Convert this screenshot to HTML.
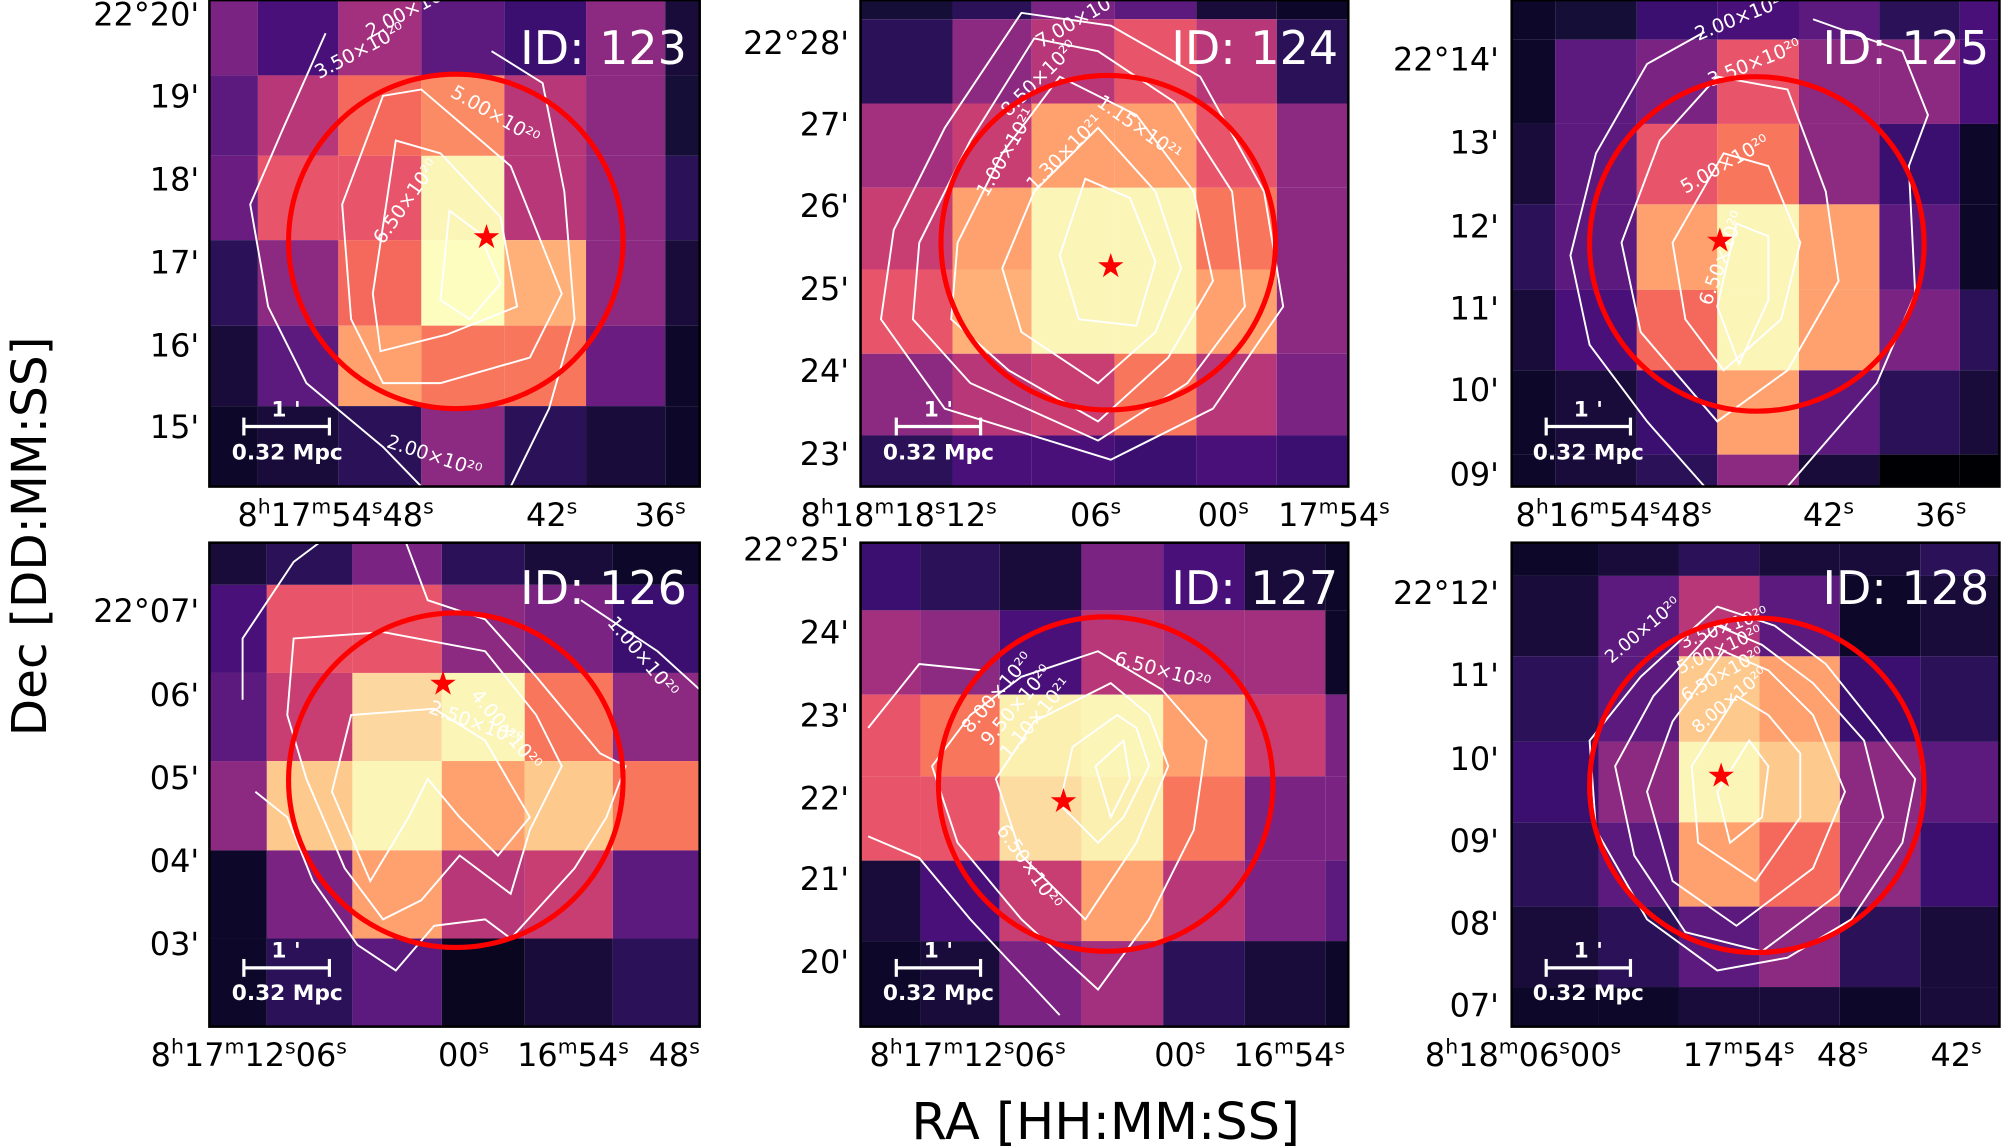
<!DOCTYPE html>
<html><head><meta charset="utf-8"><style>
html,body{margin:0;padding:0;background:#fff}
svg{display:block}
text{font-family:"DejaVu Sans","Liberation Sans",sans-serif}
</style></head><body>
<svg width="2002" height="1148" viewBox="0 0 1568 899" xmlns="http://www.w3.org/2000/svg">
<!-- P1 -->
<g>
<rect x="164" y="0" width="38" height="59" fill="#7b2382"/><rect x="202" y="0" width="63" height="59" fill="#4a1079"/><rect x="265" y="0" width="65" height="59" fill="#a3307e"/><rect x="330" y="0" width="65" height="59" fill="#5c1a7e"/><rect x="395" y="0" width="64" height="59" fill="#3b0f70"/><rect x="459" y="0" width="62" height="59" fill="#8c2981"/><rect x="521" y="0" width="27" height="59" fill="#1a0c3a"/>
<rect x="164" y="59" width="38" height="63" fill="#5c1a7e"/><rect x="202" y="59" width="63" height="63" fill="#b73779"/><rect x="265" y="59" width="65" height="63" fill="#f4695c"/><rect x="330" y="59" width="65" height="63" fill="#fa8b64"/><rect x="395" y="59" width="64" height="63" fill="#b73779"/><rect x="459" y="59" width="62" height="63" fill="#8c2981"/><rect x="521" y="59" width="27" height="63" fill="#150e37"/>
<rect x="164" y="122" width="38" height="66" fill="#6a1c81"/><rect x="202" y="122" width="63" height="66" fill="#e8556a"/><rect x="265" y="122" width="65" height="66" fill="#e8556a"/><rect x="330" y="122" width="65" height="66" fill="#fcf5b8"/><rect x="395" y="122" width="64" height="66" fill="#b73779"/><rect x="459" y="122" width="62" height="66" fill="#8c2981"/><rect x="521" y="122" width="27" height="66" fill="#2a1158"/>
<rect x="164" y="188" width="38" height="67" fill="#2a1158"/><rect x="202" y="188" width="63" height="67" fill="#8c2981"/><rect x="265" y="188" width="65" height="67" fill="#f4695c"/><rect x="330" y="188" width="65" height="67" fill="#fcfdbf"/><rect x="395" y="188" width="64" height="67" fill="#feb078"/><rect x="459" y="188" width="62" height="67" fill="#8c2981"/><rect x="521" y="188" width="27" height="67" fill="#1a0c3a"/>
<rect x="164" y="255" width="38" height="63" fill="#1a0c3a"/><rect x="202" y="255" width="63" height="63" fill="#5c1a7e"/><rect x="265" y="255" width="65" height="63" fill="#fea16e"/><rect x="330" y="255" width="65" height="63" fill="#f8765c"/><rect x="395" y="255" width="64" height="63" fill="#f8765c"/><rect x="459" y="255" width="62" height="63" fill="#6a1c81"/><rect x="521" y="255" width="27" height="63" fill="#0d0829"/>
<rect x="164" y="318" width="38" height="63" fill="#0d0829"/><rect x="202" y="318" width="63" height="63" fill="#1a0c3a"/><rect x="265" y="318" width="65" height="63" fill="#2a1158"/><rect x="330" y="318" width="65" height="63" fill="#8c2981"/><rect x="395" y="318" width="64" height="63" fill="#2a1158"/><rect x="459" y="318" width="62" height="63" fill="#1a0c3a"/><rect x="521" y="318" width="27" height="63" fill="#0d0829"/>
<g fill="none" stroke="#fff" stroke-width="1.5">
<polyline points="255,26 222,100 196,160 210,240 240,300 300,350 330,381"/>
<polyline points="385,40 425,65 442,150 450,250 430,320 400,381"/>
<polygon points="300,75 268,160 275,250 300,300 345,300 415,280 440,230 400,130 330,70"/>
<polygon points="310,110 292,230 298,275 350,262 405,240 392,170 345,120"/>
<polygon points="352,165 345,235 368,250 392,222 375,182"/>
</g>
<g fill="#fff" font-size="15"><text x="250" y="62" transform="rotate(-28 250 62)">3.50×10²⁰</text><text x="290" y="30" transform="rotate(-28 290 30)">2.00×10²⁰</text><text x="352" y="75" transform="rotate(30 352 75)">5.00×10²⁰</text><text x="300" y="192" transform="rotate(-55 300 192)">6.50×10²⁰</text><text x="302" y="350" transform="rotate(18 302 350)">2.00×10²⁰</text></g>
<circle cx="357" cy="189" r="131" fill="none" stroke="#f00" stroke-width="4"/>
<text x="381" y="194" fill="#f00" font-size="26" text-anchor="middle">★</text>
<text x="538" y="50" fill="#fff" font-size="36" text-anchor="end">ID: 123</text>
<g stroke="#fff" stroke-width="2.5"><line x1="191" y1="334" x2="258" y2="334"/><line x1="191" y1="327" x2="191" y2="341"/><line x1="258" y1="327" x2="258" y2="341"/></g>
<text x="224" y="326" fill="#fff" font-size="17" font-weight="bold" text-anchor="middle">1 '</text>
<text x="225" y="360" fill="#fff" font-size="17" font-weight="bold" text-anchor="middle">0.32 Mpc</text>
<rect x="164" y="0" width="384" height="381" fill="none" stroke="#000" stroke-width="2"/>
</g>
<!-- P2 -->
<g>
<rect x="674" y="0" width="72" height="15" fill="#150e37"/><rect x="746" y="0" width="62" height="15" fill="#2a1158"/><rect x="808" y="0" width="65" height="15" fill="#7b2382"/><rect x="873" y="0" width="64" height="15" fill="#5c1a7e"/><rect x="937" y="0" width="63" height="15" fill="#1a0c3a"/><rect x="1000" y="0" width="56" height="15" fill="#0d0829"/>
<rect x="674" y="15" width="72" height="66" fill="#2a1158"/><rect x="746" y="15" width="62" height="66" fill="#8c2981"/><rect x="808" y="15" width="65" height="66" fill="#b73779"/><rect x="873" y="15" width="64" height="66" fill="#e8556a"/><rect x="937" y="15" width="63" height="66" fill="#b73779"/><rect x="1000" y="15" width="56" height="66" fill="#2a1158"/>
<rect x="674" y="81" width="72" height="66" fill="#a3307e"/><rect x="746" y="81" width="62" height="66" fill="#c83e73"/><rect x="808" y="81" width="65" height="66" fill="#fea16e"/><rect x="873" y="81" width="64" height="66" fill="#fea16e"/><rect x="937" y="81" width="63" height="66" fill="#e8556a"/><rect x="1000" y="81" width="56" height="66" fill="#8c2981"/>
<rect x="674" y="147" width="72" height="64" fill="#c83e73"/><rect x="746" y="147" width="62" height="64" fill="#fea16e"/><rect x="808" y="147" width="65" height="64" fill="#fcf5b8"/><rect x="873" y="147" width="64" height="64" fill="#fcf5b8"/><rect x="937" y="147" width="63" height="64" fill="#f8765c"/><rect x="1000" y="147" width="56" height="64" fill="#8c2981"/>
<rect x="674" y="211" width="72" height="66" fill="#e8556a"/><rect x="746" y="211" width="62" height="66" fill="#feb078"/><rect x="808" y="211" width="65" height="66" fill="#fcf5b8"/><rect x="873" y="211" width="64" height="66" fill="#fcf5b8"/><rect x="937" y="211" width="63" height="66" fill="#fea16e"/><rect x="1000" y="211" width="56" height="66" fill="#8c2981"/>
<rect x="674" y="277" width="72" height="64" fill="#8c2981"/><rect x="746" y="277" width="62" height="64" fill="#b73779"/><rect x="808" y="277" width="65" height="64" fill="#c83e73"/><rect x="873" y="277" width="64" height="64" fill="#f8765c"/><rect x="937" y="277" width="63" height="64" fill="#b73779"/><rect x="1000" y="277" width="56" height="64" fill="#7b2382"/>
<rect x="674" y="341" width="72" height="40" fill="#2a1158"/><rect x="746" y="341" width="62" height="40" fill="#4a1079"/><rect x="808" y="341" width="65" height="40" fill="#4a1079"/><rect x="873" y="341" width="64" height="40" fill="#3b0f70"/><rect x="937" y="341" width="63" height="40" fill="#4a1079"/><rect x="1000" y="341" width="56" height="40" fill="#3b0f70"/>
<g fill="none" stroke="#fff" stroke-width="1.5">
<polygon points="800,10 740,100 700,180 690,250 740,320 870,360 950,320 1005,240 990,150 940,60 870,20"/>
<polygon points="810,30 760,110 720,190 715,250 760,300 860,345 930,300 975,240 965,150 920,80 860,40"/>
<polygon points="830,60 785,120 750,190 745,250 790,290 860,330 915,280 950,220 935,150 890,90"/>
<polygon points="860,100 810,150 785,210 800,260 860,300 905,260 925,210 905,150"/>
<polygon points="850,140 830,200 845,250 890,255 905,205 885,155"/>
</g>
<g fill="#fff" font-size="15"><text x="815" y="38" transform="rotate(-30 815 38)">7.00×10²⁰</text><text x="790" y="92" transform="rotate(-45 790 92)">8.50×10²⁰</text><text x="773" y="155" transform="rotate(-60 773 155)">1.00×10²¹</text><text x="810" y="150" transform="rotate(-45 810 150)">1.30×10²¹</text><text x="858" y="82" transform="rotate(35 858 82)">1.15×10²¹</text></g>
<circle cx="868" cy="190" r="131" fill="none" stroke="#f00" stroke-width="4"/>
<text x="870" y="217" fill="#f00" font-size="26" text-anchor="middle">★</text>
<text x="1048" y="50" fill="#fff" font-size="36" text-anchor="end">ID: 124</text>
<g stroke="#fff" stroke-width="2.5"><line x1="702" y1="334" x2="768" y2="334"/><line x1="702" y1="327" x2="702" y2="341"/><line x1="768" y1="327" x2="768" y2="341"/></g>
<text x="735" y="326" fill="#fff" font-size="17" font-weight="bold" text-anchor="middle">1 '</text>
<text x="735" y="360" fill="#fff" font-size="17" font-weight="bold" text-anchor="middle">0.32 Mpc</text>
<rect x="674" y="0" width="382" height="381" fill="none" stroke="#000" stroke-width="2"/>
</g>
<!-- P3 -->
<g>
<rect x="1184" y="0" width="34" height="31" fill="#0d0829"/><rect x="1218" y="0" width="64" height="31" fill="#150e37"/><rect x="1282" y="0" width="63" height="31" fill="#3b0f70"/><rect x="1345" y="0" width="64" height="31" fill="#4a1079"/><rect x="1409" y="0" width="63" height="31" fill="#5c1a7e"/><rect x="1472" y="0" width="63" height="31" fill="#2a1158"/><rect x="1535" y="0" width="31" height="31" fill="#4a1079"/>
<rect x="1184" y="31" width="34" height="66" fill="#0d0829"/><rect x="1218" y="31" width="64" height="66" fill="#5c1a7e"/><rect x="1282" y="31" width="63" height="66" fill="#7b2382"/><rect x="1345" y="31" width="64" height="66" fill="#e8556a"/><rect x="1409" y="31" width="63" height="66" fill="#8c2981"/><rect x="1472" y="31" width="63" height="66" fill="#8c2981"/><rect x="1535" y="31" width="31" height="66" fill="#4a1079"/>
<rect x="1184" y="97" width="34" height="63" fill="#1a0c3a"/><rect x="1218" y="97" width="64" height="63" fill="#5c1a7e"/><rect x="1282" y="97" width="63" height="63" fill="#e8556a"/><rect x="1345" y="97" width="64" height="63" fill="#f8765c"/><rect x="1409" y="97" width="63" height="63" fill="#8c2981"/><rect x="1472" y="97" width="63" height="63" fill="#3b0f70"/><rect x="1535" y="97" width="31" height="63" fill="#0d0829"/>
<rect x="1184" y="160" width="34" height="67" fill="#2a1158"/><rect x="1218" y="160" width="64" height="67" fill="#5c1a7e"/><rect x="1282" y="160" width="63" height="67" fill="#fea16e"/><rect x="1345" y="160" width="64" height="67" fill="#fcf5b8"/><rect x="1409" y="160" width="63" height="67" fill="#fea16e"/><rect x="1472" y="160" width="63" height="67" fill="#5c1a7e"/><rect x="1535" y="160" width="31" height="67" fill="#0d0829"/>
<rect x="1184" y="227" width="34" height="63" fill="#1a0c3a"/><rect x="1218" y="227" width="64" height="63" fill="#4a1079"/><rect x="1282" y="227" width="63" height="63" fill="#f4695c"/><rect x="1345" y="227" width="64" height="63" fill="#fcf5b8"/><rect x="1409" y="227" width="63" height="63" fill="#fea16e"/><rect x="1472" y="227" width="63" height="63" fill="#7b2382"/><rect x="1535" y="227" width="31" height="63" fill="#2a1158"/>
<rect x="1184" y="290" width="34" height="66" fill="#0d0829"/><rect x="1218" y="290" width="64" height="66" fill="#1a0c3a"/><rect x="1282" y="290" width="63" height="66" fill="#3b0f70"/><rect x="1345" y="290" width="64" height="66" fill="#fea16e"/><rect x="1409" y="290" width="63" height="66" fill="#5c1a7e"/><rect x="1472" y="290" width="63" height="66" fill="#2a1158"/><rect x="1535" y="290" width="31" height="66" fill="#1a0c3a"/>
<rect x="1184" y="356" width="34" height="25" fill="#0d0829"/><rect x="1218" y="356" width="64" height="25" fill="#1a0c3a"/><rect x="1282" y="356" width="63" height="25" fill="#2a1158"/><rect x="1345" y="356" width="64" height="25" fill="#8c2981"/><rect x="1409" y="356" width="63" height="25" fill="#1a0c3a"/><rect x="1472" y="356" width="63" height="25" fill="#000004"/><rect x="1535" y="356" width="31" height="25" fill="#000004"/>
<g fill="none" stroke="#fff" stroke-width="1.5">
<polyline points="1335,25 1290,50 1250,120 1230,200 1245,270 1290,330 1335,381"/>
<polyline points="1420,15 1490,40 1510,90 1495,130 1500,230 1470,300 1400,381"/>
<polygon points="1345,60 1300,110 1270,190 1285,260 1345,330 1400,290 1440,220 1430,150 1400,70"/>
<polygon points="1350,120 1310,190 1320,250 1350,290 1395,250 1410,190 1385,130"/>
<polygon points="1360,175 1345,240 1362,285 1385,235 1385,185"/>
</g>
<g fill="#fff" font-size="15"><text x="1330" y="32" transform="rotate(-22 1330 32)">2.00×10²⁰</text><text x="1340" y="68" transform="rotate(-22 1340 68)">3.50×10²⁰</text><text x="1320" y="152" transform="rotate(-30 1320 152)">5.00×10²⁰</text><text x="1340" y="240" transform="rotate(-70 1340 240)">6.50×10²⁰</text></g>
<circle cx="1376" cy="191" r="131" fill="none" stroke="#f00" stroke-width="4"/>
<text x="1347" y="197" fill="#f00" font-size="26" text-anchor="middle">★</text>
<text x="1558" y="50" fill="#fff" font-size="36" text-anchor="end">ID: 125</text>
<g stroke="#fff" stroke-width="2.5"><line x1="1211" y1="334" x2="1277" y2="334"/><line x1="1211" y1="327" x2="1211" y2="341"/><line x1="1277" y1="327" x2="1277" y2="341"/></g>
<text x="1244" y="326" fill="#fff" font-size="17" font-weight="bold" text-anchor="middle">1 '</text>
<text x="1244" y="360" fill="#fff" font-size="17" font-weight="bold" text-anchor="middle">0.32 Mpc</text>
<rect x="1184" y="0" width="382" height="381" fill="none" stroke="#000" stroke-width="2"/>
</g>
<!-- P4 -->
<g>
<rect x="164" y="425" width="45" height="33" fill="#1a0c3a"/><rect x="209" y="425" width="67" height="33" fill="#2a1158"/><rect x="276" y="425" width="70" height="33" fill="#7b2382"/><rect x="346" y="425" width="65" height="33" fill="#2a1158"/><rect x="411" y="425" width="69" height="33" fill="#1a0c3a"/><rect x="480" y="425" width="68" height="33" fill="#0d0829"/>
<rect x="164" y="458" width="45" height="69" fill="#4a1079"/><rect x="209" y="458" width="67" height="69" fill="#e8556a"/><rect x="276" y="458" width="70" height="69" fill="#e8556a"/><rect x="346" y="458" width="65" height="69" fill="#8c2981"/><rect x="411" y="458" width="69" height="69" fill="#7b2382"/><rect x="480" y="458" width="68" height="69" fill="#3b0f70"/>
<rect x="164" y="527" width="45" height="69" fill="#5c1a7e"/><rect x="209" y="527" width="67" height="69" fill="#c83e73"/><rect x="276" y="527" width="70" height="69" fill="#fcd8a0"/><rect x="346" y="527" width="65" height="69" fill="#fcf5b8"/><rect x="411" y="527" width="69" height="69" fill="#f8765c"/><rect x="480" y="527" width="68" height="69" fill="#8c2981"/>
<rect x="164" y="596" width="45" height="70" fill="#8c2981"/><rect x="209" y="596" width="67" height="70" fill="#fec98d"/><rect x="276" y="596" width="70" height="70" fill="#fcf5b8"/><rect x="346" y="596" width="65" height="70" fill="#fea16e"/><rect x="411" y="596" width="69" height="70" fill="#fec98d"/><rect x="480" y="596" width="68" height="70" fill="#f8765c"/>
<rect x="164" y="666" width="45" height="69" fill="#0d0829"/><rect x="209" y="666" width="67" height="69" fill="#7b2382"/><rect x="276" y="666" width="70" height="69" fill="#fea16e"/><rect x="346" y="666" width="65" height="69" fill="#b73779"/><rect x="411" y="666" width="69" height="69" fill="#c83e73"/><rect x="480" y="666" width="68" height="69" fill="#5c1a7e"/>
<rect x="164" y="735" width="45" height="69" fill="#0d0829"/><rect x="209" y="735" width="67" height="69" fill="#2a1158"/><rect x="276" y="735" width="70" height="69" fill="#5c1a7e"/><rect x="346" y="735" width="65" height="69" fill="#0a0620"/><rect x="411" y="735" width="69" height="69" fill="#1a0c3a"/><rect x="480" y="735" width="68" height="69" fill="#2a1158"/>
<g fill="none" stroke="#fff" stroke-width="1.5">
<polyline points="190,548 190,500 230,440 250,425"/>
<polyline points="318,425 335,470 380,485 420,530 445,560 470,590 490,600 475,640 450,680 400,735 380,720 340,725 310,760 280,740 245,690 225,640 200,620"/>
<polyline points="455,470 515,510 548,540"/>
<polygon points="230,500 225,560 240,610 270,680 300,720 330,705 360,670 400,700 415,650 440,600 420,560 380,510 300,495"/>
<polygon points="275,560 260,620 290,690 320,640 335,610 360,640 390,670 415,640 380,580 340,555"/>
</g>
<g fill="#fff" font-size="15"><text x="335" y="558" transform="rotate(20 335 558)">2.50×10²⁰</text><text x="368" y="545" transform="rotate(50 368 545)">4.00×10²⁰</text><text x="475" y="488" transform="rotate(50 475 488)">1.00×10²⁰</text></g>
<circle cx="357" cy="611" r="131" fill="none" stroke="#f00" stroke-width="4"/>
<text x="347" y="544" fill="#f00" font-size="26" text-anchor="middle">★</text>
<text x="538" y="473" fill="#fff" font-size="36" text-anchor="end">ID: 126</text>
<g stroke="#fff" stroke-width="2.5"><line x1="191" y1="758" x2="258" y2="758"/><line x1="191" y1="751" x2="191" y2="765"/><line x1="258" y1="751" x2="258" y2="765"/></g>
<text x="224" y="750" fill="#fff" font-size="17" font-weight="bold" text-anchor="middle">1 '</text>
<text x="225" y="783" fill="#fff" font-size="17" font-weight="bold" text-anchor="middle">0.32 Mpc</text>
<rect x="164" y="425" width="384" height="379" fill="none" stroke="#000" stroke-width="2"/>
</g>
<!-- P5 -->
<g>
<rect x="674" y="425" width="47" height="53" fill="#3b0f70"/><rect x="721" y="425" width="62" height="53" fill="#2a1158"/><rect x="783" y="425" width="64" height="53" fill="#1a0c3a"/><rect x="847" y="425" width="64" height="53" fill="#7b2382"/><rect x="911" y="425" width="64" height="53" fill="#4a1079"/><rect x="975" y="425" width="63" height="53" fill="#1a0c3a"/><rect x="1038" y="425" width="18" height="53" fill="#0d0829"/>
<rect x="674" y="478" width="47" height="66" fill="#a3307e"/><rect x="721" y="478" width="62" height="66" fill="#8c2981"/><rect x="783" y="478" width="64" height="66" fill="#4a1079"/><rect x="847" y="478" width="64" height="66" fill="#b73779"/><rect x="911" y="478" width="64" height="66" fill="#a3307e"/><rect x="975" y="478" width="63" height="66" fill="#a3307e"/><rect x="1038" y="478" width="18" height="66" fill="#0d0829"/>
<rect x="674" y="544" width="47" height="64" fill="#e8556a"/><rect x="721" y="544" width="62" height="64" fill="#f8765c"/><rect x="783" y="544" width="64" height="64" fill="#fcf0b0"/><rect x="847" y="544" width="64" height="64" fill="#fcf5b8"/><rect x="911" y="544" width="64" height="64" fill="#fea16e"/><rect x="975" y="544" width="63" height="64" fill="#c83e73"/><rect x="1038" y="544" width="18" height="64" fill="#7b2382"/>
<rect x="674" y="608" width="47" height="66" fill="#e8556a"/><rect x="721" y="608" width="62" height="66" fill="#e8556a"/><rect x="783" y="608" width="64" height="66" fill="#fcdca0"/><rect x="847" y="608" width="64" height="66" fill="#fcf0b0"/><rect x="911" y="608" width="64" height="66" fill="#f8765c"/><rect x="975" y="608" width="63" height="66" fill="#7b2382"/><rect x="1038" y="608" width="18" height="66" fill="#7b2382"/>
<rect x="674" y="674" width="47" height="63" fill="#1a0c3a"/><rect x="721" y="674" width="62" height="63" fill="#4a1079"/><rect x="783" y="674" width="64" height="63" fill="#c83e73"/><rect x="847" y="674" width="64" height="63" fill="#fea16e"/><rect x="911" y="674" width="64" height="63" fill="#b73779"/><rect x="975" y="674" width="63" height="63" fill="#7b2382"/><rect x="1038" y="674" width="18" height="63" fill="#5c1a7e"/>
<rect x="674" y="737" width="47" height="67" fill="#0d0829"/><rect x="721" y="737" width="62" height="67" fill="#1a0c3a"/><rect x="783" y="737" width="64" height="67" fill="#7b2382"/><rect x="847" y="737" width="64" height="67" fill="#a3307e"/><rect x="911" y="737" width="64" height="67" fill="#2a1158"/><rect x="975" y="737" width="63" height="67" fill="#1a0c3a"/><rect x="1038" y="737" width="18" height="67" fill="#0d0829"/>
<g fill="none" stroke="#fff" stroke-width="1.5">
<polyline points="680,570 720,520 770,525"/>
<polyline points="680,655 720,672 760,720 830,795"/>
<polygon points="860,510 800,530 760,560 730,600 750,660 800,720 860,775 900,720 935,650 945,580 910,540"/>
<polygon points="870,535 810,565 780,610 800,670 850,720 890,660 915,600 900,560"/>
<polygon points="875,560 840,585 830,630 860,660 880,640 900,600 890,570"/>
<polygon points="880,580 858,600 870,640 885,610"/>
</g>
<g fill="#fff" font-size="15"><text x="872" y="520" transform="rotate(15 872 520)">6.50×10²⁰</text><text x="760" y="575" transform="rotate(-50 760 575)">8.00×10²⁰</text><text x="775" y="585" transform="rotate(-50 775 585)">9.50×10²⁰</text><text x="790" y="595" transform="rotate(-50 790 595)">1.10×10²¹</text><text x="780" y="650" transform="rotate(55 780 650)">6.50×10²⁰</text></g>
<circle cx="866" cy="614" r="131" fill="none" stroke="#f00" stroke-width="4"/>
<text x="833" y="636" fill="#f00" font-size="26" text-anchor="middle">★</text>
<text x="1048" y="473" fill="#fff" font-size="36" text-anchor="end">ID: 127</text>
<g stroke="#fff" stroke-width="2.5"><line x1="702" y1="758" x2="768" y2="758"/><line x1="702" y1="751" x2="702" y2="765"/><line x1="768" y1="751" x2="768" y2="765"/></g>
<text x="735" y="750" fill="#fff" font-size="17" font-weight="bold" text-anchor="middle">1 '</text>
<text x="735" y="783" fill="#fff" font-size="17" font-weight="bold" text-anchor="middle">0.32 Mpc</text>
<rect x="674" y="425" width="382" height="379" fill="none" stroke="#000" stroke-width="2"/>
</g>
<!-- P6 -->
<g>
<rect x="1184" y="425" width="68" height="26" fill="#0d0829"/><rect x="1252" y="425" width="63" height="26" fill="#1a0c3a"/><rect x="1315" y="425" width="63" height="26" fill="#2a1158"/><rect x="1378" y="425" width="63" height="26" fill="#1a0c3a"/><rect x="1441" y="425" width="63" height="26" fill="#1a0c3a"/><rect x="1504" y="425" width="62" height="26" fill="#2a1158"/>
<rect x="1184" y="451" width="68" height="63" fill="#1a0c3a"/><rect x="1252" y="451" width="63" height="63" fill="#5c1a7e"/><rect x="1315" y="451" width="63" height="63" fill="#b73779"/><rect x="1378" y="451" width="63" height="63" fill="#5c1a7e"/><rect x="1441" y="451" width="63" height="63" fill="#0d0829"/><rect x="1504" y="451" width="62" height="63" fill="#1a0c3a"/>
<rect x="1184" y="514" width="68" height="67" fill="#2a1158"/><rect x="1252" y="514" width="63" height="67" fill="#5c1a7e"/><rect x="1315" y="514" width="63" height="67" fill="#fec98d"/><rect x="1378" y="514" width="63" height="67" fill="#fea16e"/><rect x="1441" y="514" width="63" height="67" fill="#3b0f70"/><rect x="1504" y="514" width="62" height="67" fill="#2a1158"/>
<rect x="1184" y="581" width="68" height="63" fill="#3b0f70"/><rect x="1252" y="581" width="63" height="63" fill="#8c2981"/><rect x="1315" y="581" width="63" height="63" fill="#fcf5b8"/><rect x="1378" y="581" width="63" height="63" fill="#fec98d"/><rect x="1441" y="581" width="63" height="63" fill="#8c2981"/><rect x="1504" y="581" width="62" height="63" fill="#5c1a7e"/>
<rect x="1184" y="644" width="68" height="66" fill="#2a1158"/><rect x="1252" y="644" width="63" height="66" fill="#5c1a7e"/><rect x="1315" y="644" width="63" height="66" fill="#fea16e"/><rect x="1378" y="644" width="63" height="66" fill="#f4695c"/><rect x="1441" y="644" width="63" height="66" fill="#8c2981"/><rect x="1504" y="644" width="62" height="66" fill="#3b0f70"/>
<rect x="1184" y="710" width="68" height="63" fill="#1a0c3a"/><rect x="1252" y="710" width="63" height="63" fill="#2a1158"/><rect x="1315" y="710" width="63" height="63" fill="#5c1a7e"/><rect x="1378" y="710" width="63" height="63" fill="#8c2981"/><rect x="1441" y="710" width="63" height="63" fill="#2a1158"/><rect x="1504" y="710" width="62" height="63" fill="#1a0c3a"/>
<rect x="1184" y="773" width="68" height="31" fill="#0d0829"/><rect x="1252" y="773" width="63" height="31" fill="#0d0829"/><rect x="1315" y="773" width="63" height="31" fill="#1a0c3a"/><rect x="1378" y="773" width="63" height="31" fill="#1a0c3a"/><rect x="1441" y="773" width="63" height="31" fill="#0d0829"/><rect x="1504" y="773" width="62" height="31" fill="#1a0c3a"/>
<g fill="none" stroke="#fff" stroke-width="1.5">
<polygon points="1345,475 1285,530 1245,580 1250,650 1290,720 1345,760 1400,750 1450,720 1490,660 1500,610 1470,570 1430,520 1390,490"/>
<polygon points="1345,490 1295,545 1265,600 1280,670 1320,730 1380,745 1440,700 1475,640 1460,580 1420,535 1380,505"/>
<polygon points="1350,510 1310,565 1290,620 1310,690 1360,725 1420,680 1445,620 1420,560 1385,525"/>
<polygon points="1360,545 1325,600 1330,660 1375,690 1410,640 1410,590 1385,560"/>
<polygon points="1370,580 1345,620 1355,660 1380,640 1385,600"/>
</g>
<g fill="#fff" font-size="14"><text x="1262" y="520" transform="rotate(-40 1262 520)">2.00×10²⁰</text><text x="1318" y="508" transform="rotate(-20 1318 508)">3.50×10²⁰</text><text x="1316" y="528" transform="rotate(-25 1316 528)">5.00×10²⁰</text><text x="1320" y="550" transform="rotate(-30 1320 550)">6.50×10²⁰</text><text x="1330" y="575" transform="rotate(-40 1330 575)">8.00×10²⁰</text></g>
<circle cx="1376" cy="615" r="131" fill="none" stroke="#f00" stroke-width="4"/>
<text x="1348" y="616" fill="#f00" font-size="26" text-anchor="middle">★</text>
<text x="1558" y="473" fill="#fff" font-size="36" text-anchor="end">ID: 128</text>
<g stroke="#fff" stroke-width="2.5"><line x1="1211" y1="758" x2="1277" y2="758"/><line x1="1211" y1="751" x2="1211" y2="765"/><line x1="1277" y1="751" x2="1277" y2="765"/></g>
<text x="1244" y="750" fill="#fff" font-size="17" font-weight="bold" text-anchor="middle">1 '</text>
<text x="1244" y="783" fill="#fff" font-size="17" font-weight="bold" text-anchor="middle">0.32 Mpc</text>
<rect x="1184" y="425" width="382" height="379" fill="none" stroke="#000" stroke-width="2"/>
</g>
<!-- Y tick labels -->
<g font-size="25" fill="#000" text-anchor="end" dominant-baseline="middle">
<text x="156" y="13">22°20'</text><text x="156" y="77">19'</text><text x="156" y="142">18'</text><text x="156" y="207">17'</text><text x="156" y="272">16'</text><text x="156" y="336">15'</text>
<text x="665" y="35">22°28'</text><text x="665" y="99">27'</text><text x="665" y="163">26'</text><text x="665" y="228">25'</text><text x="665" y="292">24'</text><text x="665" y="357">23'</text>
<text x="1174" y="48">22°14'</text><text x="1174" y="113">13'</text><text x="1174" y="179">12'</text><text x="1174" y="243">11'</text><text x="1174" y="307">10'</text><text x="1174" y="373">09'</text>
<text x="156" y="480">22°07'</text><text x="156" y="546">06'</text><text x="156" y="611">05'</text><text x="156" y="676">04'</text><text x="156" y="741">03'</text>
<text x="665" y="432">22°25'</text><text x="665" y="497">24'</text><text x="665" y="562">23'</text><text x="665" y="627">22'</text><text x="665" y="690">21'</text><text x="665" y="755">20'</text>
<text x="1174" y="466">22°12'</text><text x="1174" y="530">11'</text><text x="1174" y="596">10'</text><text x="1174" y="660">09'</text><text x="1174" y="725">08'</text><text x="1174" y="789">07'</text>
</g>
<!-- X tick labels -->
<g font-size="25" fill="#000">
<text x="186" y="412">8<tspan font-size="16" dy="-10">h</tspan><tspan dy="10">17</tspan><tspan font-size="16" dy="-10">m</tspan><tspan dy="10">54</tspan><tspan font-size="16" dy="-10">s</tspan><tspan dy="10">48</tspan><tspan font-size="16" dy="-10">s</tspan></text>
<text x="412" y="412">42<tspan font-size="16" dy="-10">s</tspan></text><text x="497" y="412">36<tspan font-size="16" dy="-10">s</tspan></text>
<text x="627" y="412">8<tspan font-size="16" dy="-10">h</tspan><tspan dy="10">18</tspan><tspan font-size="16" dy="-10">m</tspan><tspan dy="10">18</tspan><tspan font-size="16" dy="-10">s</tspan><tspan dy="10">12</tspan><tspan font-size="16" dy="-10">s</tspan></text>
<text x="838" y="412">06<tspan font-size="16" dy="-10">s</tspan></text><text x="938" y="412">00<tspan font-size="16" dy="-10">s</tspan></text><text x="1001" y="412">17<tspan font-size="16" dy="-10">m</tspan><tspan dy="10">54</tspan><tspan font-size="16" dy="-10">s</tspan></text>
<text x="1187" y="412">8<tspan font-size="16" dy="-10">h</tspan><tspan dy="10">16</tspan><tspan font-size="16" dy="-10">m</tspan><tspan dy="10">54</tspan><tspan font-size="16" dy="-10">s</tspan><tspan dy="10">48</tspan><tspan font-size="16" dy="-10">s</tspan></text>
<text x="1412" y="412">42<tspan font-size="16" dy="-10">s</tspan></text><text x="1500" y="412">36<tspan font-size="16" dy="-10">s</tspan></text>
<text x="118" y="835">8<tspan font-size="16" dy="-10">h</tspan><tspan dy="10">17</tspan><tspan font-size="16" dy="-10">m</tspan><tspan dy="10">12</tspan><tspan font-size="16" dy="-10">s</tspan><tspan dy="10">06</tspan><tspan font-size="16" dy="-10">s</tspan></text>
<text x="343" y="835">00<tspan font-size="16" dy="-10">s</tspan></text><text x="405" y="835">16<tspan font-size="16" dy="-10">m</tspan><tspan dy="10">54</tspan><tspan font-size="16" dy="-10">s</tspan></text><text x="508" y="835">48<tspan font-size="16" dy="-10">s</tspan></text>
<text x="681" y="835">8<tspan font-size="16" dy="-10">h</tspan><tspan dy="10">17</tspan><tspan font-size="16" dy="-10">m</tspan><tspan dy="10">12</tspan><tspan font-size="16" dy="-10">s</tspan><tspan dy="10">06</tspan><tspan font-size="16" dy="-10">s</tspan></text>
<text x="904" y="835">00<tspan font-size="16" dy="-10">s</tspan></text><text x="966" y="835">16<tspan font-size="16" dy="-10">m</tspan><tspan dy="10">54</tspan><tspan font-size="16" dy="-10">s</tspan></text>
<text x="1116" y="835">8<tspan font-size="16" dy="-10">h</tspan><tspan dy="10">18</tspan><tspan font-size="16" dy="-10">m</tspan><tspan dy="10">06</tspan><tspan font-size="16" dy="-10">s</tspan><tspan dy="10">00</tspan><tspan font-size="16" dy="-10">s</tspan></text>
<text x="1318" y="835">17<tspan font-size="16" dy="-10">m</tspan><tspan dy="10">54</tspan><tspan font-size="16" dy="-10">s</tspan></text><text x="1423" y="835">48<tspan font-size="16" dy="-10">s</tspan></text><text x="1512" y="835">42<tspan font-size="16" dy="-10">s</tspan></text>
</g>
<text x="866" y="892" font-size="40" text-anchor="middle" fill="#000">RA [HH:MM:SS]</text>
<text transform="translate(36 420) rotate(-90)" font-size="38" text-anchor="middle" fill="#000">Dec [DD:MM:SS]</text>
</svg>
</body></html>
